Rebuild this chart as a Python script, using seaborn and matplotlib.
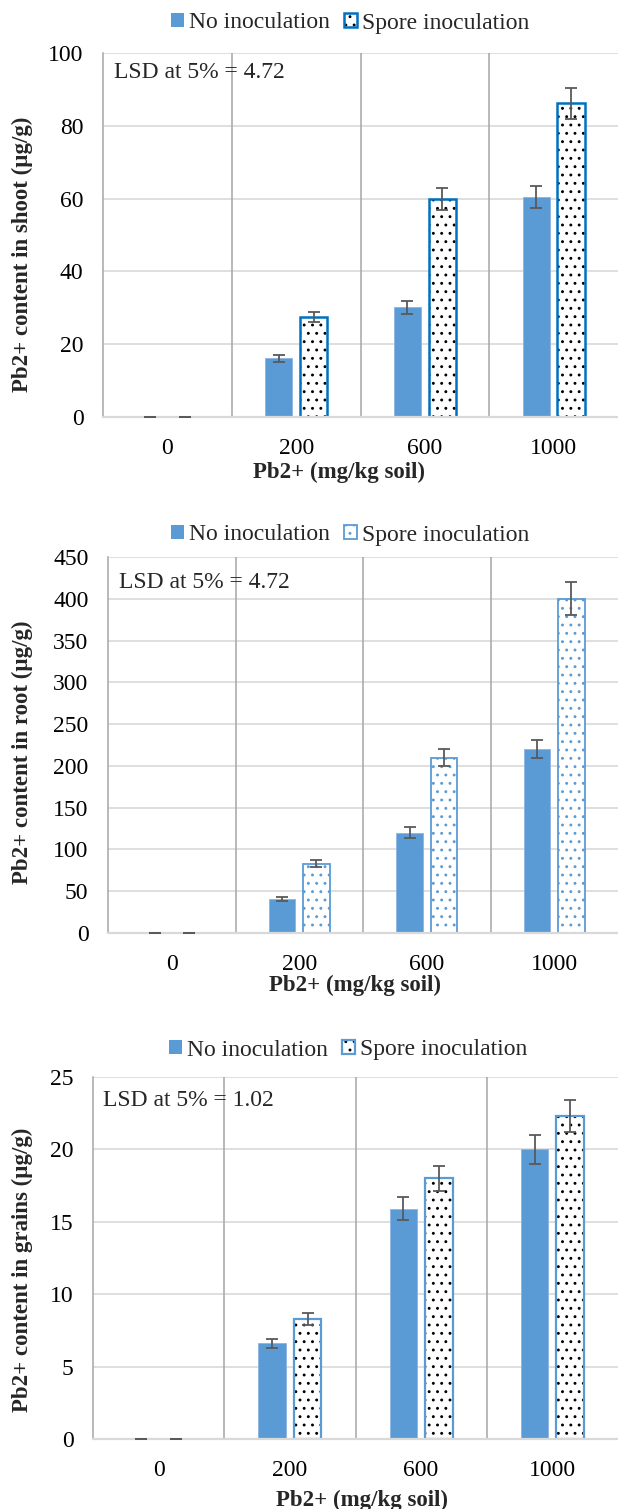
import numpy as np
import pandas as pd
import matplotlib
matplotlib.use("Agg")
import matplotlib.pyplot as plt
from matplotlib.patches import Patch, Rectangle
import seaborn as sns

# ---------------- data ----------------
doses = ["0", "200", "600", "1000"]
treatments = ["No inoculation", "Spore inoculation"]

shoot_no = [0, 16.1, 30.1, 60.5]
shoot_no_err = [0, 0.9, 1.7, 3.0]
shoot_sp = [0, 27.4, 60.0, 86.2]
shoot_sp_err = [0, 1.4, 3.0, 4.2]

root_no = [0, 41, 120, 220]
root_no_err = [0, 2.5, 6.5, 11]
root_sp = [0, 83, 210, 400]
root_sp_err = [0, 4.2, 10.5, 20]

grain_no = [0, 6.6, 15.9, 20.0]
grain_no_err = [0, 0.34, 0.8, 1.0]
grain_sp = [0, 8.3, 18.0, 22.3]
grain_sp_err = [0, 0.42, 0.85, 1.1]

lsd_texts = ["LSD at 5% = 4.72", "LSD at 5% = 4.72", "LSD at 5% = 1.02"]
ylabels = ["Pb2+ content in shoot (µg/g)", "Pb2+ content in root (µg/g)",
           "Pb2+ content in grains (µg/g)"]
xlabel = "Pb2+ (mg/kg soil)"

# ---------------- style ----------------
sns.set_theme(style="white")
plt.rcParams["font.family"] = ["Liberation Serif", "DejaVu Serif"]
plt.rcParams["hatch.linewidth"] = 0.9

W, H = 618, 1509
fig = plt.figure(figsize=(W / 100, H / 100), dpi=100)

BLUE = "#5B9BD5"
FS = 17
FS_LAB = 16.5

panels = [
    dict(box=(103, 618, 53, 417), no=shoot_no, noe=shoot_no_err, sp=shoot_sp, spe=shoot_sp_err,
         ymax=100, step=20, edge="#0070C0", elw=1.8, dot="black",
         leg=(350, 23), ylab=(22, 254), xlab=(339, 472), lsd=(114, 73)),
    dict(box=(108, 618, 557, 933), no=root_no, noe=root_no_err, sp=root_sp, spe=root_sp_err,
         ymax=450, step=50, edge=BLUE, elw=1.3, dot=BLUE,
         leg=(350, 535), ylab=(22, 752), xlab=(355, 985), lsd=(119, 583)),
    dict(box=(93, 618, 1077, 1439), no=grain_no, noe=grain_no_err, sp=grain_sp, spe=grain_sp_err,
         ymax=25, step=5, edge=BLUE, elw=1.6, dot="black",
         leg=(348, 1050), ylab=(22, 1270), xlab=(362, 1500), lsd=(103, 1100)),
]

for i, p in enumerate(panels):
    l, r, t, b = p["box"]
    ax = fig.add_axes([l / W, (H - b) / H, (r - l) / W, (b - t) / H])
    df = pd.DataFrame({
        "dose": doses * 2,
        "treat": [treatments[0]] * 4 + [treatments[1]] * 4,
        "val": list(p["no"]) + list(p["sp"]),
    })
    sns.barplot(data=df, x="dose", y="val", hue="treat", order=doses, hue_order=treatments,
                palette=[BLUE, "white"], width=0.54, gap=0.22, errorbar=None,
                legend=False, ax=ax, zorder=3)

    # no-inoculation bars
    for patch in ax.containers[0]:
        patch.set_facecolor(BLUE)
        patch.set_edgecolor("#8DB4E2")
        patch.set_linewidth(0.6)
    # spore bars: dotted fill + outline
    for patch in ax.containers[1]:
        patch.set_facecolor("white")
        patch.set_edgecolor(p["dot"])
        patch.set_hatch("..")
        patch.set_linewidth(0)
        if patch.get_height() > 0:
            ax.add_patch(Rectangle((patch.get_x(), patch.get_y()), patch.get_width(),
                                   patch.get_height(), fill=False, edgecolor=p["edge"],
                                   linewidth=p["elw"], zorder=4))

    # error bars
    for cont, vals, errs in [(ax.containers[0], p["no"], p["noe"]),
                             (ax.containers[1], p["sp"], p["spe"])]:
        xs = [pt.get_x() + pt.get_width() / 2 for pt in cont]
        ax.errorbar(xs, vals, yerr=errs, fmt="none", ecolor="#595959",
                    elinewidth=1.3, capsize=4, capthick=1.3, zorder=7)

    ax.set_xlim(-0.5, 3.5)
    ax.set_ylim(0, p["ymax"])
    ax.set_yticks(np.arange(0, p["ymax"] + p["step"] / 2, p["step"]))
    ax.yaxis.grid(True, color="#D9D9D9", linewidth=1.2, zorder=0)
    ax.xaxis.grid(False)
    for xv in [0.5, 1.5, 2.5]:
        ax.axvline(xv, color="#A6A6A6", linewidth=1.1, zorder=1)
    for s in ["top", "right"]:
        ax.spines[s].set_visible(False)
    ax.spines["left"].set_color("#A6A6A6")
    ax.spines["left"].set_linewidth(1.1)
    ax.spines["bottom"].set_color("#D9D9D9")
    ax.spines["bottom"].set_linewidth(1.6)
    ax.spines["bottom"].set_zorder(6)
    ax.tick_params(axis="both", length=0, labelsize=FS, colors="black")
    ax.tick_params(axis="x", pad=15)
    ax.tick_params(axis="y", pad=14)

    ax.set_xlabel(xlabel, fontsize=FS_LAB, fontweight="bold")
    ax.set_ylabel(ylabels[i], fontsize=FS_LAB, fontweight="bold")
    ax.xaxis.set_label_coords(p["xlab"][0] / W, 1 - p["xlab"][1] / H, transform=fig.transFigure)
    ax.yaxis.set_label_coords(p["ylab"][0] / W, 1 - p["ylab"][1] / H, transform=fig.transFigure)
    ax.xaxis.label.set_va("center")
    ax.yaxis.label.set_va("center")

    lx, ly = p["lsd"]
    fig.text(lx / W, 1 - ly / H, lsd_texts[i], fontsize=FS, ha="left", va="center", zorder=10)

    h_no = Patch(facecolor=BLUE, edgecolor=BLUE, linewidth=0)
    h_sp_fill = Patch(facecolor="white", edgecolor=p["dot"], hatch="..", linewidth=0)
    h_sp_edge = Patch(facecolor="none", edgecolor=p["edge"], linewidth=p["elw"])
    fig.legend([h_no, (h_sp_fill, h_sp_edge)], treatments, loc="center",
               bbox_to_anchor=(p["leg"][0] / W, 1 - p["leg"][1] / H), ncol=2,
               frameon=False, fontsize=FS, handlelength=0.55, handleheight=0.55,
               handletextpad=0.2, columnspacing=0.6)

fig.savefig("out.png", dpi=100)
